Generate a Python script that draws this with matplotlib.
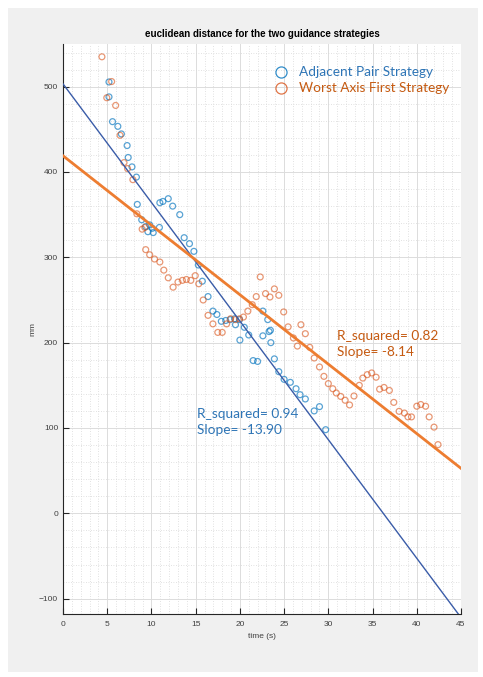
import numpy as np
import matplotlib
matplotlib.use("Agg")
import matplotlib.pyplot as plt
from matplotlib.lines import Line2D
from matplotlib.patches import Rectangle
from matplotlib.ticker import MultipleLocator

# time (s) and euclidean distance (mm) for each guidance strategy
adj_t = [5.2, 5.2, 5.6, 6.2, 6.6, 7.25, 7.37, 7.8, 8.3, 8.4, 8.9, 9.35, 9.6, 9.8,
         10.1, 10.2, 10.9, 10.95, 11.3, 11.9, 12.4, 13.2, 13.7, 14.3, 14.8, 15.3,
         15.75, 16.4, 16.95, 17.4, 17.9, 18.4, 18.9, 19.4, 19.5, 19.96, 20.0, 20.5,
         21.0, 21.5, 22.0, 22.6, 22.6, 23.15, 23.3, 23.45, 23.5, 23.9, 24.4, 25.0,
         25.7, 26.35, 26.8, 27.4, 28.4, 29.0, 29.7]
adj_d = [505.5, 488, 459, 453.5, 444.6, 431, 417, 406, 394, 362, 344, 336, 330, 338,
         334, 329, 335, 364, 365.5, 368.7, 360, 350, 323, 316, 307, 291,
         272, 254, 237, 233, 225, 226, 227, 228, 221, 227, 203, 218,
         209, 179, 178, 237, 208, 227, 213, 214.5, 200, 181, 166, 157,
         153.5, 146, 139, 134, 120, 125, 98]

waf_t = [4.4, 4.95, 5.5, 5.95, 6.45, 6.9, 7.3, 7.9, 8.35, 8.95, 9.25, 9.35, 9.8,
         10.35, 10.95, 11.4, 11.9, 12.45, 13.0, 13.5, 13.95, 14.45, 14.95, 15.35,
         15.85, 16.4, 16.95, 17.5, 18.0, 18.5, 18.95, 19.5, 19.95, 20.4, 20.9, 21.4,
         21.85, 22.3, 22.9, 23.4, 23.9, 24.4, 24.95, 25.45, 26.05, 26.5, 26.9, 27.4,
         27.9, 28.4, 29.0, 29.5, 30.0, 30.5, 30.9, 31.4, 31.9, 32.4, 32.9, 33.5,
         33.9, 34.4, 34.9, 35.4, 35.8, 36.3, 36.9, 37.4, 38.0, 38.6, 39.0, 39.4,
         40.0, 40.45, 41.0, 41.4, 41.95, 42.4]
waf_d = [535, 487, 506, 478, 443, 411, 404, 391, 351, 333, 335, 309, 303,
         298, 294.5, 285, 276, 265, 271, 273, 274, 273, 278.5, 269,
         250, 232, 222, 212, 212, 222, 228, 227, 228, 230, 237, 244.5,
         254, 277, 257.5, 253.5, 263, 255.5, 236, 218.5, 205.5, 196, 221, 210.5,
         194.5, 182, 171.5, 160.5, 152, 146, 141, 137, 132.5, 127, 137.5, 150,
         158.5, 162.5, 164.5, 159.5, 145.5, 147.5, 144, 130, 119.5, 117.5, 113, 113,
         125.5, 127.5, 125.5, 113, 101, 80.5]

# linear fits (intercept, slope) and fit stats
adj_fit = (503.3, -13.90)
waf_fit = (419.0, -8.14)
adj_r2 = 0.94
waf_r2 = 0.82

BLUE = "#0072BD"
ORANGE = "#D95319"

fig = plt.figure(figsize=(4.83, 6.77), dpi=100, facecolor="white")
fig.patches.append(Rectangle((8 / 483, 5 / 677), 470 / 483, 664 / 677,
                             transform=fig.transFigure, facecolor="#f0f0f0",
                             edgecolor="none", zorder=-10))

ax = fig.add_axes([63 / 483, 1 - 614 / 677, 398 / 483, 570 / 677])
ax.set_facecolor("white")

ax.scatter(adj_t, adj_d, s=18, facecolors="none", edgecolors=BLUE,
           linewidths=0.9, alpha=0.65, zorder=3)
ax.scatter(waf_t, waf_d, s=18, facecolors="none", edgecolors=ORANGE,
           linewidths=0.9, alpha=0.6, zorder=3)

xx = np.array([0, 45])
ax.plot(xx, adj_fit[0] + adj_fit[1] * xx, color="#3a5ca8", lw=1.0, zorder=4)
ax.plot(xx, waf_fit[0] + waf_fit[1] * xx, color="#ED7D31", lw=2.0, zorder=4)

ax.set_xlim(0, 45)
ax.set_ylim(-118, 550)
ax.xaxis.set_major_locator(MultipleLocator(5))
ax.xaxis.set_minor_locator(MultipleLocator(1))
ax.yaxis.set_major_locator(MultipleLocator(100))
ax.yaxis.set_minor_locator(MultipleLocator(20))
ax.grid(True, which="major", color="#dcdcdc", lw=0.7)
ax.grid(True, which="minor", color="#d8d8d8", lw=0.6, ls=(0, (1, 2)))
ax.set_axisbelow(True)

for side in ["top", "right"]:
    ax.spines[side].set_visible(False)
for side in ["left", "bottom"]:
    ax.spines[side].set_color("#262626")
    ax.spines[side].set_linewidth(0.8)
ax.tick_params(which="major", direction="in", length=4, width=0.8,
               labelsize=6, labelcolor="#404040", color="#262626")
ax.tick_params(axis="x", pad=5)
ax.tick_params(which="minor", length=0)
for lbl in ax.get_xticklabels() + ax.get_yticklabels():
    lbl.set_family("Liberation Sans")

ax.set_title("euclidean distance for the two guidance strategies",
             fontsize=7, fontweight="bold", family="Liberation Sans", pad=5)
ax.set_xlabel("time (s)", fontsize=6, color="#404040", family="Liberation Sans",
              labelpad=4)
ax.set_ylabel("mm", fontsize=6, color="#404040", family="Liberation Sans",
              labelpad=2)

handles = [
    Line2D([], [], ls="none", marker="o", ms=8, mfc="none", mec=BLUE, mew=0.9,
           alpha=0.8),
    Line2D([], [], ls="none", marker="o", ms=8, mfc="none", mec=ORANGE, mew=0.9,
           alpha=0.8),
]
leg = ax.legend(handles, ["Adjacent Pair Strategy", "Worst Axis First Strategy"],
                loc="upper right", bbox_to_anchor=(0.99, 0.975), frameon=False,
                prop={"family": "Lato", "size": 9.8}, handletextpad=0.3,
                labelspacing=0.3, borderaxespad=0.2)
leg.get_texts()[0].set_color("#2E75B6")
leg.get_texts()[1].set_color("#C55A11")

ax.text(15.2, 107, f"R_squared= {adj_r2:.2f}\nSlope= {adj_fit[1]:.2f}",
        color="#2E75B6", family="Lato", fontsize=9.8, va="center",
        linespacing=1.45)
ax.text(31.0, 198, f"R_squared= {waf_r2:.2f}\nSlope= {waf_fit[1]:.2f}",
        color="#C55A11", family="Lato", fontsize=9.8, va="center",
        linespacing=1.4)

fig.savefig("out.png", dpi=100, facecolor="white")
